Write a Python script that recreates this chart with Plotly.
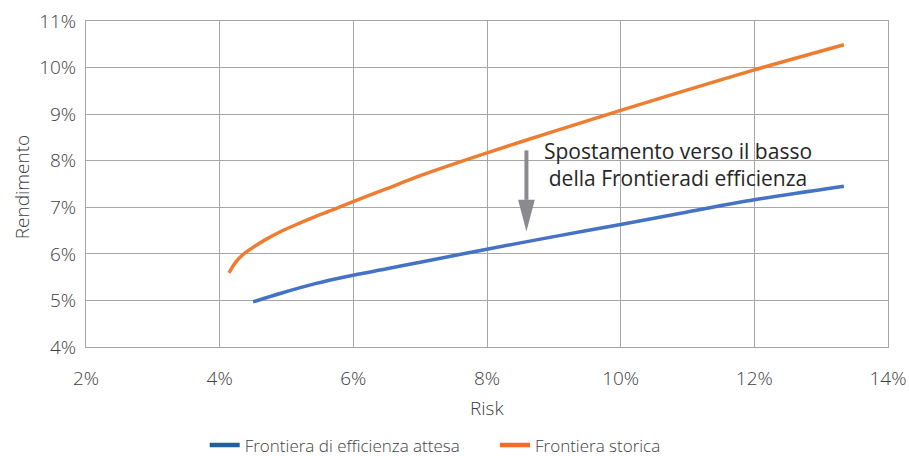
import plotly.graph_objects as go

# Efficient frontier data: risk (%) vs expected return (%)
risk_storica = [4.14, 4.20, 4.28, 4.38, 4.50, 4.68, 4.93, 5.18, 5.43, 5.68, 5.92, 6.50, 7.00, 8.00, 9.00, 10.00, 11.00, 12.00, 13.34]
rend_storica = [5.59, 5.74, 5.89, 6.02, 6.14, 6.30, 6.49, 6.65, 6.80, 6.94, 7.08, 7.40, 7.68, 8.17, 8.63, 9.08, 9.52, 9.95, 10.49]

risk_attesa = [4.50, 4.93, 5.43, 5.92, 6.50, 7.00, 8.00, 9.00, 10.00, 11.00, 12.00, 13.34]
rend_attesa = [4.97, 5.16, 5.36, 5.52, 5.68, 5.82, 6.10, 6.37, 6.63, 6.90, 7.16, 7.45]

series_names = ["Frontiera di efficienza attesa", "Frontiera storica"]
line_colors = ["#4472c4", "#ed7d31"]
legend_colors = ["#1f5f9c", "#f26b2a"]

x_ticks = [2, 4, 6, 8, 10, 12, 14]
y_ticks = [4, 5, 6, 7, 8, 9, 10, 11]

# Downward-shift arrow (risk position, top, head base and tip returns)
arrow_x = 8.59
arrow_top = 8.22
arrow_base = 7.16
arrow_tip = 6.48
arrow_half = 0.125
note_text = "Spostamento verso il basso<br>della Frontieradi efficienza"

fig = go.Figure()

for xs, ys, col in [(risk_attesa, rend_attesa, line_colors[0]),
                    (risk_storica, rend_storica, line_colors[1])]:
    fig.add_trace(go.Scatter(x=xs, y=ys, mode="lines", showlegend=False,
                             line=dict(color=col, width=3.5, shape="spline", smoothing=0.8),
                             hoverinfo="skip"))

# Legend entries, each in its own legend box
for i, (name, col) in enumerate(zip(series_names, legend_colors)):
    fig.add_trace(go.Scatter(x=[None], y=[None], mode="lines", name=name,
                             legend="legend" if i == 0 else "legend2",
                             line=dict(color=col, width=4.5)))

arrow_col = "#8b8b8f"
fig.add_shape(type="line", xref="x", yref="y", x0=arrow_x, x1=arrow_x,
              y0=arrow_top, y1=arrow_base, line=dict(color=arrow_col, width=4))
fig.add_shape(type="path", xref="x", yref="y",
              path=f"M {arrow_x - arrow_half} {arrow_base} L {arrow_x + arrow_half} {arrow_base} "
                   f"L {arrow_x} {arrow_tip} Z",
              fillcolor=arrow_col, line=dict(width=0))

fig.add_annotation(x=10.865, y=7.91, xref="x", yref="y", text=note_text,
                   showarrow=False, align="center",
                   font=dict(family="Open Sans", size=21, color="#262626"))

font_main = "Open Sans"
grid_col = "#a6a6a6"
tick_font = dict(family=font_main, size=19, color="#404040", weight=300)

fig.update_xaxes(range=[2, 14], tickvals=x_ticks, ticktext=[f"{v}%" for v in x_ticks],
                 showgrid=True, gridcolor=grid_col, gridwidth=1,
                 showline=True, linecolor=grid_col, linewidth=1, mirror=True,
                 zeroline=False, ticks="", ticklabelstandoff=14, tickfont=tick_font)
fig.update_yaxes(range=[4, 11], tickvals=y_ticks, ticktext=[f"{v}%" for v in y_ticks],
                 showgrid=True, gridcolor=grid_col, gridwidth=1,
                 showline=True, linecolor=grid_col, linewidth=1, mirror=True,
                 zeroline=False, ticks="", ticklabelstandoff=5, tickfont=tick_font)

title_font = dict(family=font_main, size=19, color="#404040", weight=300)
fig.add_annotation(text="Risk", xref="paper", yref="paper", x=0.5, y=-0.186,
                   showarrow=False, yanchor="middle", font=title_font)
fig.add_annotation(text="Rendimento", xref="paper", yref="paper", x=-0.0798, y=0.49,
                   showarrow=False, textangle=-90, xanchor="center", yanchor="middle",
                   font=title_font)

legend_font = dict(family=font_main, size=17, color="#404040", weight=300)
fig.update_layout(
    width=909, height=456,
    margin=dict(l=86, r=21, t=21, b=109, autoexpand=False),
    paper_bgcolor="white", plot_bgcolor="white",
    legend=dict(orientation="h", x=0.148, xanchor="left", y=-0.302, yanchor="middle",
                itemwidth=30, font=legend_font),
    legend2=dict(orientation="h", x=0.51, xanchor="left", y=-0.302, yanchor="middle",
                 itemwidth=30, font=legend_font),
)

fig.write_html("out.html")
